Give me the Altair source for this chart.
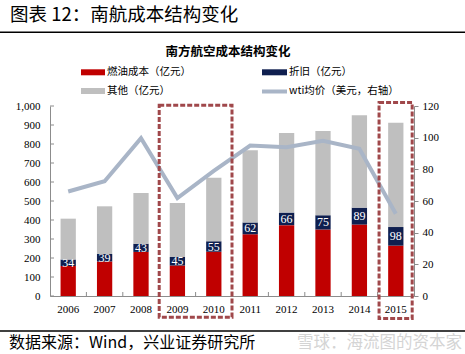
import altair as alt
import pandas as pd

# ---------------- data ----------------
years = [str(y) for y in range(2006, 2016)]
fuel = [158, 182, 232, 160, 233, 325, 373, 350, 376, 265]      # 燃油成本（亿元）
depr = [34, 39, 43, 45, 55, 62, 66, 75, 89, 98]                 # 折旧（亿元）
other = [215, 251, 267, 285, 335, 380, 419, 443, 486, 549]     # 其他（亿元）
wti = [66, 72.5, 99.7, 61.8, 79, 95, 94, 98, 93, 52]            # wti均价（美元，右轴）

series = ["燃油成本（亿元）", "折旧（亿元）", "其他（亿元）"]
line_name = "wti均价（美元，右轴）"
left_ticks = list(range(0, 1001, 100))
right_ticks = list(range(0, 121, 20))

# highlighted year ranges (dashed boxes)
box_start = ["2009", "2015"]
box_end = ["2010", "2015"]
box_top = [1004, 1018]
box_bottom = [-112, -118]

# ---------------- style ----------------
colors = ["#c00000", "#0f1f4f", "#bfbfbf"]
line_color = "#a9b5c7"
box_color = "#a0484b"
axis_color = "#8c8c8c"
serif = "Liberation Serif"
cjk = "Noto Sans CJK SC"

W, H = 364, 190      # plot area
L, T = 50, 106       # plot origin on the page
PW, PH = 465, 354


def px(x):
    return x - L


def py(y):
    return y - T


xscale = alt.Scale(domain=years, paddingInner=0, paddingOuter=0)
yscale = alt.Scale(domain=[0, 1000], nice=False)
xaxis = alt.Axis(title=None, labelAngle=0, labelFont=serif, labelFontSize=11,
                 labelColor="black", ticks=False, domainColor=axis_color,
                 labelPadding=7)

rows = []
for i, yr in enumerate(years):
    for k, v in enumerate([fuel[i], depr[i], other[i]]):
        rows.append({"year": yr, "series": series[k], "value": v, "order": k})
bar_df = pd.DataFrame(rows)

lab_df = pd.DataFrame({
    "year": years,
    "mid": [f + d / 2 for f, d in zip(fuel, depr)],
    "txt": [str(d) for d in depr],
})
wti_df = pd.DataFrame({"year": years, "wti": wti})

bars = alt.Chart(bar_df).mark_bar(width=alt.RelativeBandSize(0.42)).encode(
    x=alt.X("year:N", scale=xscale, sort=years, axis=xaxis),
    y=alt.Y("value:Q", stack="zero", scale=yscale,
            axis=alt.Axis(title=None, values=left_ticks,
                          labelExpr="replace(format(datum.value, 'd'), /^1000$/, '1,000')",
                          labelFont=serif, labelFontSize=11, labelColor="black", ticks=False,
                          domainColor=axis_color, labelPadding=10, grid=False)),
    color=alt.Color("series:N", scale=alt.Scale(domain=series, range=colors), legend=None),
    order=alt.Order("order:Q"),
)

labels = alt.Chart(lab_df).mark_text(color="white", font=serif, fontSize=12,
                                     baseline="middle", align="center").encode(
    x=alt.X("year:N", scale=xscale, axis=xaxis),
    y=alt.Y("mid:Q", scale=yscale, axis=None),
    text="txt:N",
)

line = alt.Chart(wti_df).mark_line(color=line_color, strokeWidth=4).encode(
    x=alt.X("year:N", scale=xscale, axis=xaxis),
    y=alt.Y("wti:Q", scale=alt.Scale(domain=[0, 120], nice=False),
            axis=alt.Axis(orient="right", title=None, values=right_ticks,
                          labelFont=serif, labelFontSize=11, labelColor="black",
                          tickSize=4, tickColor=axis_color, domainColor=axis_color,
                          labelPadding=4, grid=False)),
)

# inward ticks
xtick = alt.Chart(pd.DataFrame({"year": years[1:]})).mark_rule(color=axis_color).encode(
    x=alt.X("year:N", scale=xscale, axis=xaxis, bandPosition=0),
    y=alt.value(H), y2=alt.value(H - 4),
)
ytick = alt.Chart(pd.DataFrame({"v": left_ticks})).mark_rule(color=axis_color).encode(
    y=alt.Y("v:Q", scale=yscale, axis=None),
    x=alt.value(0), x2=alt.value(4),
)

box_layers = []
box_bands = [(0, 1), (0.04, 0.95)]
for i in range(len(box_start)):
    bdf = pd.DataFrame({"s": [box_start[i]], "e": [box_end[i]],
                        "top": [box_top[i]], "bot": [box_bottom[i]]})
    b0, b1 = box_bands[i]
    box_layers.append(
        alt.Chart(bdf).mark_rect(fillOpacity=0, stroke=box_color, strokeWidth=3,
                                 strokeDash=[5, 2]).encode(
            x=alt.X("s:N", scale=xscale, axis=xaxis, bandPosition=b0),
            x2=alt.X2("e:N", bandPosition=b1),
            y=alt.Y("top:Q", scale=yscale, axis=None),
            y2="bot:Q",
        )
    )

one = pd.DataFrame({"a": [0]})


def text(t, x, y, size, font=cjk, weight="normal", align="left", color="black"):
    return alt.Chart(one).mark_text(font=font, fontSize=size, fontWeight=weight,
                                    align=align, baseline="middle", color=color).encode(
        x=alt.value(px(x)), y=alt.value(py(y)), text=alt.value(t))


def hrule(y, width=1.5):
    return alt.Chart(one).mark_rule(color="black", strokeWidth=width).encode(
        x=alt.value(px(0)), x2=alt.value(px(PW)), y=alt.value(py(y)))


def swatch(x0, x1, yc, h, color):
    return alt.Chart(one).mark_rect(color=color).encode(
        x=alt.value(px(x0)), x2=alt.value(px(x1)),
        y=alt.value(py(yc - h / 2)), y2=alt.value(py(yc + h / 2)))


deco = [
    text("图表 12：南航成本结构变化", 10, 15, 18.5),
    hrule(32.3),
    text("南方航空成本结构变化", 228, 52, 12.5, weight="bold", align="center"),
    swatch(81, 105, 72.3, 6, colors[0]),
    text(series[0], 107, 72.3, 10.5),
    swatch(262, 287, 72.3, 6, colors[1]),
    text(series[1], 289, 72.3, 10.5),
    swatch(81, 105, 91, 6, colors[2]),
    text(series[2], 107, 91, 10.5),
    alt.Chart(one).mark_rule(color=line_color, strokeWidth=4).encode(
        x=alt.value(px(262)), x2=alt.value(px(287)), y=alt.value(py(91.5))),
    text(line_name, 289, 91, 10.5),
    hrule(331),
    text("数据来源：Wind，兴业证券研究所", 9, 342.5, 16),
    text("雪球：海流图的资本家", 462, 342.5, 16.5, align="right", color="#d4d4d4"),
]

chart = alt.layer(bars, labels, line, xtick, ytick, *box_layers, *deco).resolve_scale(
    y="independent"
).properties(
    width=W, height=H,
    padding={"left": L, "top": T, "right": PW - L - W, "bottom": PH - T - H},
    autosize=alt.AutoSizeParams(type="none"),
    background="white",
).configure_view(stroke=None)

chart.save("out.html", embed_options={"renderer": "svg", "actions": False})
